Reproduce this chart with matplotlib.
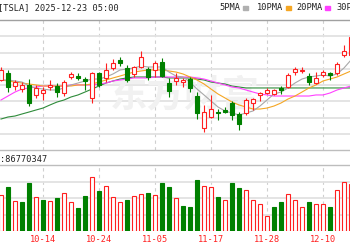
import numpy as np
import matplotlib
matplotlib.use('Agg')
import matplotlib.pyplot as plt
from matplotlib.patches import Rectangle

W, H = 350, 250

# daily candles (price units)
opens = [441.6, 449.5, 434.8, 431.4, 436.0, 424.7, 426.9, 433.7, 434.8, 426.9,
         445.0, 446.1, 442.7, 421.3, 449.5, 443.9, 455.2, 464.2, 455.2, 448.4,
         456.3, 454.0, 452.9, 461.9, 438.2, 440.5, 439.3, 442.7, 423.5, 387.4,
         399.8, 405.4, 407.7, 415.6, 403.2, 404.3, 415.6, 424.7, 426.9, 425.8,
         432.6, 433.7, 450.6, 451.8, 446.1, 438.2, 447.3, 449.5, 449.5, 469.9,
         469.9]
highs = [456.3, 452.9, 441.6, 439.3, 442.7, 436.0, 433.7, 441.6, 438.2, 441.6,
         450.6, 449.5, 445.0, 450.6, 450.6, 460.8, 465.3, 467.6, 458.6, 457.4,
         474.4, 456.3, 463.1, 466.4, 443.9, 449.5, 443.9, 445.0, 428.0, 413.4,
         424.7, 408.8, 411.1, 417.9, 405.4, 421.3, 421.3, 428.0, 432.6, 431.4,
         434.8, 449.5, 456.3, 456.3, 449.5, 450.6, 452.9, 450.6, 461.9, 481.2,
         492.5]
lows = [440.5, 428.0, 430.3, 428.0, 412.2, 421.3, 419.0, 430.3, 422.4, 423.5,
        442.7, 441.6, 430.3, 415.6, 433.7, 439.3, 452.9, 457.4, 439.3, 445.0,
        455.2, 441.6, 445.0, 445.0, 422.4, 436.0, 433.7, 428.0, 397.5, 382.8,
        398.7, 396.4, 404.3, 396.4, 385.1, 402.1, 407.7, 417.9, 425.8, 424.7,
        425.8, 432.6, 447.3, 449.5, 436.0, 437.1, 445.0, 441.6, 447.3, 467.6,
        467.6]
closes = [452.9, 433.7, 439.3, 436.0, 415.6, 432.6, 430.3, 436.0, 428.0, 439.3,
          448.4, 443.9, 440.5, 449.5, 436.0, 452.9, 460.8, 460.8, 441.6, 456.3,
          467.6, 445.0, 460.8, 446.1, 429.2, 443.9, 441.6, 432.6, 404.3, 405.4,
          408.8, 404.3, 405.4, 402.1, 391.9, 419.0, 420.1, 426.9, 430.3, 430.3,
          430.3, 447.3, 454.0, 452.9, 439.3, 443.9, 450.6, 447.3, 459.7, 474.4,
          490.2]

ma5 = [441.6, 441.6, 440.5, 439.3, 434.8, 432.6, 431.4, 430.3, 430.3, 432.6,
       436.0, 438.2, 440.5, 442.7, 442.7, 445.0, 448.4, 452.9, 454.0, 455.2,
       457.4, 456.3, 456.3, 456.3, 450.6, 446.1, 445.0, 439.3, 431.4, 424.7,
       417.9, 411.1, 406.6, 404.3, 402.1, 404.3, 406.6, 412.2, 419.0, 425.8,
       428.0, 432.6, 438.2, 442.7, 445.0, 446.1, 447.3, 446.1, 448.4, 455.2,
       464.2]
ma10 = [441.6, 440.5, 439.3, 438.2, 437.1, 436.0, 434.8, 434.8, 434.8, 434.8,
        434.8, 436.0, 436.0, 437.1, 439.3, 441.6, 443.9, 446.1, 448.4, 450.6,
        451.8, 452.9, 452.9, 452.9, 451.8, 450.6, 448.4, 445.0, 441.6, 437.1,
        431.4, 425.8, 421.3, 416.7, 413.4, 411.1, 408.8, 408.8, 409.9, 412.2,
        415.6, 420.1, 423.5, 428.0, 432.6, 436.0, 440.5, 442.7, 445.0, 448.4,
        451.8]
ma20 = [419.0, 423.5, 428.0, 431.4, 432.6, 433.7, 434.8, 434.8, 434.8, 434.8,
        436.0, 436.0, 436.0, 436.0, 437.1, 438.2, 440.5, 441.6, 442.7, 443.9,
        443.9, 443.9, 445.0, 445.0, 445.0, 445.0, 445.0, 445.0, 443.9, 442.7,
        440.5, 438.2, 436.0, 433.7, 432.6, 430.3, 428.0, 425.8, 424.7, 423.5,
        423.5, 423.5, 423.5, 423.5, 423.5, 424.7, 424.7, 426.9, 430.3, 432.6,
        434.8]
ma30 = [397.5, 399.8, 400.9, 403.2, 405.4, 407.7, 409.9, 413.4, 416.7, 419.0,
        422.4, 424.7, 428.0, 431.4, 434.8, 438.2, 440.5, 442.7, 443.9, 445.0,
        445.0, 445.0, 445.0, 445.0, 443.9, 443.9, 443.9, 443.9, 442.7, 441.6,
        439.3, 438.2, 437.1, 434.8, 433.7, 432.6, 432.6, 432.6, 432.6, 432.6,
        432.6, 432.6, 432.6, 432.6, 432.6, 432.6, 432.6, 432.6, 432.6, 432.6,
        432.6]

# volume in millions, and red(up)/green flag as drawn
volumes = [86, 106, 72, 70, 115, 82, 74, 72, 79, 91,
           70, 55, 84, 130, 96, 108, 82, 70, 74, 84,
           89, 91, 86, 115, 106, 79, 60, 58, 122, 108,
           106, 82, 74, 115, 103, 98, 74, 65, 36, 58,
           70, 89, 74, 58, 70, 65, 65, 58, 98, 118,
           113]
vol_up = "rgrggrgrgrrggrgrrrgrrgrggrgggrrgrggrrrrggrrrgrrgrrr"

date_pos = [-2, 6, 14, 22, 30, 38, 46]
date_labels = ['10-02', '10-14', '10-24', '11-05', '11-17', '11-28', '12-10']

RED = '#ff2020'
GREEN = '#008000'
GRID = '#e2e2e2'
MONO = 'DejaVu Sans Mono'


def fx(x):
    return x / W


def fy(y):
    return 1 - y / H


fig = plt.figure(figsize=(3.5, 2.5), dpi=100)
fig.patch.set_facecolor('white')

# pixel layout of the two panels
ax = fig.add_axes([0, fy(150), 1, (150 - 20) / H])
axv = fig.add_axes([0, fy(231), 1, (231 - 165) / H])

# x pixel = 1 + 7*i
xlim = (-1 / 7, 349 / 7)
n = len(closes)
idx = np.arange(n)

for a in (ax, axv):
    a.set_xlim(*xlim)
    for s in a.spines.values():
        s.set_visible(False)
    a.set_xticks([])
    a.set_yticks([])
    for p in date_pos:
        a.axvline(p, color='#cfcfcf', lw=0.8, ls=(0, (3, 3)), zorder=0)

ax.set_ylim(532 - 1.13 * 150, 532 - 1.13 * 20)
axv.set_ylim(0, 66 * 2.4)

# horizontal grid
y0, y1 = ax.get_ylim()
for k in range(1, 8):
    ax.axhline(y0 + k * (y1 - y0) / 8, color=GRID, lw=1.3, zorder=0)
for k in range(1, 4):
    axv.axhline(k * axv.get_ylim()[1] / 4, color=GRID, lw=1.3, zorder=0)

# watermark, kept inside the price panel below the marks
ax.text(fx(185), fy(96), '东方财富', family=['Noto Sans CJK SC'], fontsize=27,
        color='#f1f1f1', ha='center', va='center', weight='bold', zorder=1,
        transform=fig.transFigure)

# moving averages
ax.plot(idx, ma30, color='#2e8b3a', lw=0.8, zorder=2)
ax.plot(idx, ma20, color='#ff40ff', lw=0.8, zorder=2)
ax.plot(idx, ma10, color='#f5a623', lw=0.8, zorder=2)
ax.plot(idx, ma5, color='#a8a8a8', lw=0.8, zorder=2)

bw = 0.68
for i in range(n):
    o, h, l, c = opens[i], highs[i], lows[i], closes[i]
    up = c >= o
    col = RED if up else GREEN
    lo_b, hi_b = min(o, c), max(o, c)
    ax.vlines(i, l, lo_b, color=col, lw=0.8, zorder=3)
    ax.vlines(i, hi_b, h, color=col, lw=0.8, zorder=3)
    hgt = max(hi_b - lo_b, 0.6)
    if up:
        ax.add_patch(Rectangle((i - bw / 2, lo_b), bw, hgt, facecolor='white',
                               edgecolor=col, lw=0.8, zorder=4))
    else:
        ax.add_patch(Rectangle((i - bw / 2, lo_b), bw, hgt, facecolor=col,
                               edgecolor=col, lw=0.8, zorder=4))

for i in range(n):
    if vol_up[i] == 'r':
        axv.add_patch(Rectangle((i - bw / 2, 0), bw, volumes[i], facecolor='white',
                                edgecolor=RED, lw=0.8, zorder=3))
    else:
        axv.add_patch(Rectangle((i - bw / 2, 0), bw, volumes[i], facecolor=GREEN,
                                edgecolor=GREEN, lw=0.8, zorder=3))

# frame lines
for y, c in [(20, '#a0a0a0'), (150, '#bdbdbd'), (165, '#bdbdbd')]:
    fig.add_artist(plt.Line2D([0, 1], [fy(y), fy(y)], color=c, lw=1.0))

# header
fig.text(fx(-2), fy(8), '[TSLA] 2025-12-23 05:00', family=MONO, fontsize=6.2,
         color='#222222', va='center', ha='left')
leg = [('5PMA', 219, '#b0b0b0'), ('10PMA', 257, '#f5a623'),
       ('20PMA', 296, '#ff40ff'), ('30PMA', 336, '#2e8b3a')]
for lab, x0, c in leg:
    fig.text(fx(x0), fy(8), lab, family=MONO, fontsize=6.2, color='#222222',
             va='center', ha='left')
    mx = x0 + len(lab) * 5.2 + 3
    fig.add_artist(Rectangle((fx(mx), fy(9.5)), 5 / W, 3 / H, color=c,
                             transform=fig.transFigure))

fig.text(fx(0), fy(159), ':86770347', family=MONO, fontsize=6.2, color='#222222',
         va='center', ha='left')

for p, lab in zip(date_pos, date_labels):
    fig.text(fx(1 + 7 * p), fy(240), lab, family=MONO, fontsize=6.2, color=RED,
             va='center', ha='center')

fig.savefig('out.png', dpi=100)
